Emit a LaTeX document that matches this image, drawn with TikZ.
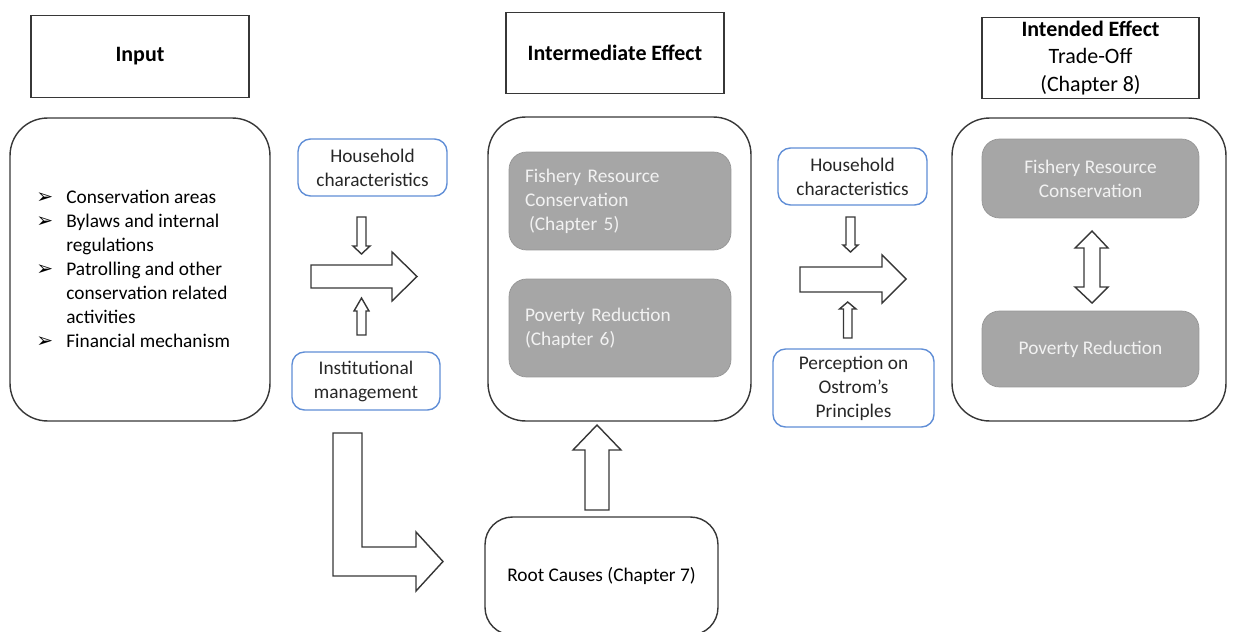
\documentclass[tikz,border=0pt]{standalone}
\usepackage{fontspec}
\setmainfont{Carlito}
\newfontfamily\dingfont{DejaVu Sans}
\definecolor{hhblue}{RGB}{96,142,214}
\definecolor{boxgray}{RGB}{166,166,166}
\definecolor{edgegray}{RGB}{150,150,150}
\definecolor{linegray}{RGB}{55,55,55}
\newcommand{\bul}{\makebox[0.6cm][l]{\dingfont\fontsize{11.5}{11}\selectfont ➢}}

\begin{document}
\begin{tikzpicture}[x=0.02cm,y=-0.02cm]
	\tikzstyle{every node}+=[inner sep=0pt, font=\fontsize{11}{13.66}\selectfont]
	\tikzstyle{headbox}=[draw=linegray, line width=0.8pt, minimum width=4.36cm, minimum height=1.63cm, align=center, font=\fontsize{12.5}{15.6}\selectfont]
	\tikzstyle{stage}=[draw=linegray, line width=0.8pt, rounded corners=0.75cm]
	\tikzstyle{effect}=[fill=boxgray, draw=edgegray, rounded corners=0.35cm, text=white!95!black]
	\tikzstyle{factor}=[draw=hhblue, line width=0.8pt, rounded corners=0.25cm, align=center, text=linegray!70!black]
	\tikzstyle{blockarrow}=[draw=linegray, line width=0.8pt, fill=white, line join=miter]
	\useasboundingbox (0,0) rectangle (1234,632);
	\node[headbox] (inputhead) at (140,56.5) {\textbf{Input}};
	\node[headbox] (midhead) at (615,53) {\textbf{Intermediate Effect}};
	\node[headbox, minimum width=4.34cm] (endhead) at (1090.5,58) {\textbf{Intended Effect}\\Trade-Off\\(Chapter 8)};
	\node[stage, minimum width=5.2cm, minimum height=6.06cm] (inputbox) at (140,269.5) {};
	\node[stage, minimum width=5.26cm, minimum height=6.08cm] (midbox) at (619.5,269) {};
	\node[stage, minimum width=5.48cm, minimum height=6.06cm] (endbox) at (1089,269.5) {};
	\node[anchor=west, align=left] (inputlist) at (36,269) {\bul Conservation areas\\
		\bul Bylaws and internal\\
		\hspace*{0.6cm}regulations\\
		\bul Patrolling and other\\
		\hspace*{0.6cm}conservation related\\
		\hspace*{0.6cm}activities\\
		\bul Financial mechanism};
	\node[effect, minimum height=1.96cm, text width=3.8cm, inner xsep=0.32cm, align=left] (fishmid) at (620,201) {Fishery Resource\\Conservation\\\hspace*{0.08cm}(Chapter 5)};
	\node[effect, minimum height=1.96cm, text width=3.8cm, inner xsep=0.32cm, align=left] (povmid) at (620,328) {Poverty Reduction\\(Chapter 6)};
	\node[effect, minimum width=4.34cm, minimum height=1.58cm, align=center] (fishend) at (1090.5,178.5) {Fishery Resource\\Conservation};
	\node[effect, minimum width=4.34cm, minimum height=1.52cm] (povend) at (1090.5,349) {Poverty Reduction};
	\node[factor, minimum width=2.98cm, minimum height=1.14cm] (house1) at (372.5,167.5) {Household\\characteristics};
	\node[factor, minimum width=2.96cm, minimum height=1.16cm] (inst) at (366,381) {Institutional\\management};
	\node[factor, minimum width=2.98cm, minimum height=1.14cm] (house2) at (852.5,176.5) {Household\\characteristics};
	\node[factor, minimum width=3.22cm, minimum height=1.56cm] (percep) at (853.5,388) {Perception on\\Ostrom’s\\Principles};
	\node[stage, rounded corners=0.55cm, minimum width=4.66cm, minimum height=2.36cm] (root) at (601.5,576) {Root Causes (Chapter 7)};
	\draw[blockarrow] (311,265) -- (392,265) -- (392,252) -- (417,276.5) -- (392,301) -- (392,288) -- (311,288) -- cycle;
	\draw[blockarrow] (357,217) -- (366,217) -- (366,246) -- (370,246) -- (361.5,254) -- (353,246) -- (357,246) -- cycle;
	\draw[blockarrow] (357,335) -- (366,335) -- (366,311) -- (369,311) -- (361.5,298) -- (354,311) -- (357,311) -- cycle;
	\draw[blockarrow] (800,267) -- (882,267) -- (882,255) -- (906,279) -- (882,303) -- (882,292) -- (800,292) -- cycle;
	\draw[blockarrow] (846,217) -- (855,217) -- (855,245) -- (858,245) -- (850.5,252) -- (843,245) -- (846,245) -- cycle;
	\draw[blockarrow] (843.5,338) -- (852,338) -- (852,309) -- (856,309) -- (847.7,302) -- (839.5,309) -- (843.5,309) -- cycle;
	\draw[blockarrow] (1092,231) -- (1108,248) -- (1100,248) -- (1100,287) -- (1108,287) -- (1092,303) -- (1075,287) -- (1084,287) -- (1084,248) -- (1075,248) -- cycle;
	\draw[blockarrow] (333,433) -- (362,433) -- (362,547) -- (416,547) -- (416,532) -- (443,561.5) -- (416,591) -- (416,576) -- (333,576) -- cycle;
	\draw[blockarrow] (585,510) -- (609,510) -- (609,450) -- (621,450) -- (597,425) -- (573,450) -- (585,450) -- cycle;
\end{tikzpicture}
\end{document}
